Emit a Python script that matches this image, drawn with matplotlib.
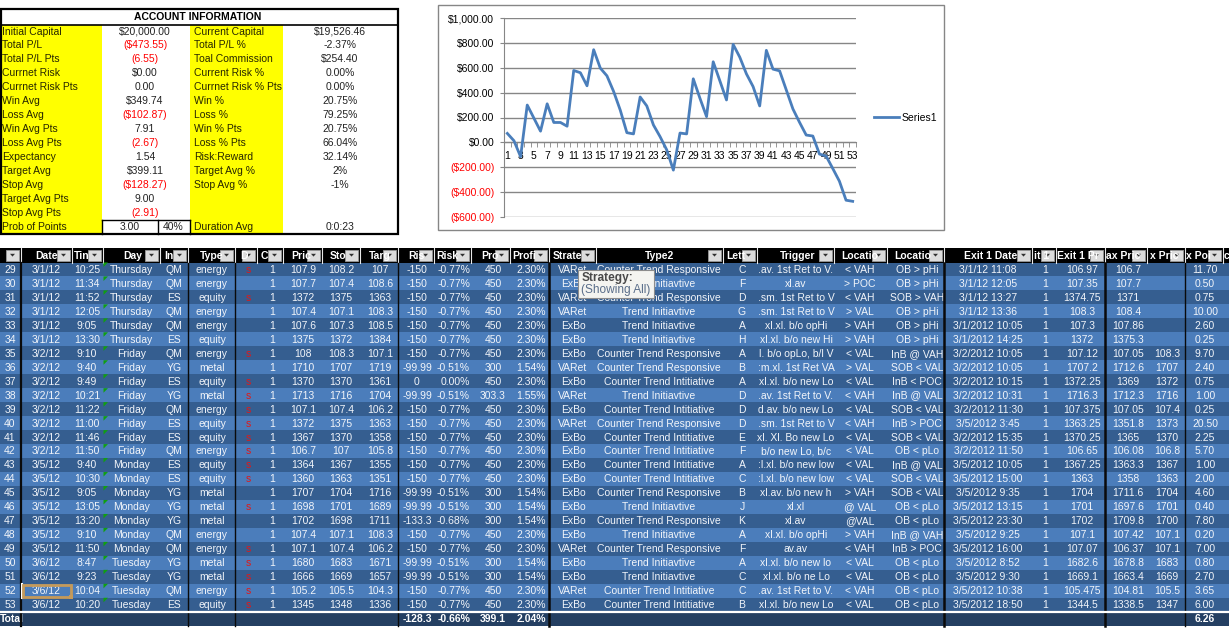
import matplotlib
matplotlib.use('Agg')
import matplotlib.pyplot as plt
from matplotlib.patches import Rectangle, Polygon

plt.rcParams['font.family'] = ['Liberation Sans', 'DejaVu Sans']
FS = 7.5

# ---------------- data ----------------
equity = [72, 13, -115, 300, 195, 90, 310, 160, 160, 130, 578, 560, 455, 745, 597,
          535, 410, 260, 78, 68, 365, 293, 140, 46, -60, -223, 75, 68, 511, 355,
          207, 648, 495, 341, 788, 685, 551, 449, 293, 740, 589, 575, 422, 269, 161,
          59, 51, -94, -110, -210, -312, -465, -474]

info_left_labels = ['Initial Capital', 'Total P/L', 'Total P/L Pts', 'Currnet Risk', 'Currnet Risk Pts',
                    'Win Avg', 'Loss Avg', 'Win Avg Pts', 'Loss Avg Pts', 'Expectancy',
                    'Target Avg', 'Stop Avg', 'Target Avg Pts', 'Stop Avg Pts', 'Prob of Points']
info_left_values = ['$20,000.00', '($473.55)', '(6.55)', '$0.00', '0.00', '$349.74', '($102.87)',
                    '7.91', '(2.67)', '1.54', '$399.11', '($128.27)', '9.00', '(2.91)', '3.00']
prob_pct = '40%'
info_right_labels = ['Current Capital', 'Total P/L %', 'Toal Commission', 'Current Risk %',
                     'Currnet Risk % Pts', 'Win %', 'Loss %', 'Win % Pts', 'Loss % Pts', 'Risk:Reward',
                     'Target Avg %', 'Stop Avg %', '', '', 'Duration Avg']
info_right_values = ['$19,526.46', '-2.37%', '$254.40', '0.00%', '0.00%', '20.75%', '79.25%',
                     '20.75%', '66.04%', '32.14%', '2%', '-1%', '', '', '0:0:23']

row_ids = list(range(29, 54))
dates = ['3/1/12'] * 6 + ['3/2/12'] * 8 + ['3/5/12'] * 7 + ['3/6/12'] * 4
times = ['10:25', '11:34', '11:52', '12:05', '9:05', '13:30', '9:10', '9:40', '9:49', '10:21',
         '11:22', '11:00', '11:46', '11:50', '9:40', '10:30', '9:05', '13:05', '13:20', '9:10',
         '11:50', '8:47', '9:23', '10:04', '10:20']
days = ['Thursday'] * 6 + ['Friday'] * 8 + ['Monday'] * 7 + ['Tuesday'] * 4
instruments = ['QM', 'QM', 'ES', 'QM', 'QM', 'ES', 'QM', 'YG', 'ES', 'YG', 'QM', 'ES', 'ES',
               'QM', 'ES', 'ES', 'YG', 'YG', 'YG', 'QM', 'QM', 'YG', 'YG', 'QM', 'ES']
types = ['energy', 'energy', 'equity', 'energy', 'energy', 'equity', 'energy', 'metal', 'equity',
         'metal', 'energy', 'equity', 'equity', 'energy', 'equity', 'equity', 'metal', 'metal',
         'metal', 'energy', 'energy', 'metal', 'metal', 'energy', 'equity']
directions = ['s', '', 's', '', '', '', 's', '', 's', 's', 's', 's', 's', 's', 's', 's', '', 's',
              '', '', 's', 's', 's', 's', 's']
contracts = ['1'] * 25
prices = ['107.9', '107.7', '1372', '107.4', '107.6', '1375', '108', '1710', '1370', '1713',
          '107.1', '1372', '1367', '106.7', '1364', '1360', '1707', '1698', '1702', '107.4',
          '107.1', '1680', '1666', '105.2', '1345']
stops = ['108.2', '107.4', '1375', '107.1', '107.3', '1372', '108.3', '1707', '1370', '1716',
         '107.4', '1375', '1370', '107', '1367', '1363', '1704', '1701', '1698', '107.1',
         '107.4', '1683', '1669', '105.5', '1348']
targets = ['107', '108.6', '1363', '108.3', '108.5', '1384', '107.1', '1719', '1361', '1704',
           '106.2', '1363', '1358', '105.8', '1355', '1351', '1716', '1689', '1711', '108.3',
           '106.2', '1671', '1657', '104.3', '1336']
risks = ['-150'] * 7 + ['-99.99', '0', '-99.99'] + ['-150'] * 6 + ['-99.99', '-99.99', '-133.3',
         '-150', '-150', '-99.99', '-99.99', '-150', '-150']
risk_pcts = ['-0.77%'] * 7 + ['-0.51%', '0.00%', '-0.51%'] + ['-0.77%'] * 6 + ['-0.51%', '-0.51%',
             '-0.68%', '-0.77%', '-0.77%', '-0.51%', '-0.51%', '-0.77%', '-0.77%']
profits = ['450'] * 7 + ['300', '450', '303.3'] + ['450'] * 6 + ['300', '300', '300', '450', '450',
           '300', '300', '450', '450']
profit_pcts = ['2.30%'] * 7 + ['1.54%', '2.30%', '1.55%'] + ['2.30%'] * 6 + ['1.54%', '1.54%',
               '1.54%', '2.30%', '2.30%', '1.54%', '1.54%', '2.30%', '2.30%']
strategies = ['VARet', 'ExBo', 'VARet', 'VARet', 'ExBo', 'ExBo', 'ExBo', 'VARet', 'ExBo', 'VARet',
              'ExBo', 'VARet', 'ExBo', 'ExBo', 'ExBo', 'ExBo', 'ExBo', 'ExBo', 'ExBo', 'ExBo',
              'VARet', 'ExBo', 'ExBo', 'VARet', 'ExBo']
CTR, TI, CTI = 'Counter Trend Responsive', 'Trend Initiavtive', 'Counter Trend Intitiative'
types2 = [CTR, TI, CTR, TI, TI, TI, CTR, CTR, CTI, TI, CTI, CTR, CTI, CTI, CTI, CTI, CTR, TI, CTR,
          TI, CTR, TI, TI, CTI, CTI]
letters = ['C', 'F', 'D', 'G', 'A', 'H', 'A', 'B', 'A', 'D', 'D', 'D', 'E', 'F', 'A', 'C', 'B', 'J',
           'K', 'A', 'F', 'A', 'C', 'C', 'B']
triggers = ['.av. 1st Ret to V.', 'xl.av', '.sm. 1st Ret to V', '.sm. 1st Ret to V',
            'xl.xl. b/o opHi', 'xl.xl. b/o new Hi', 'l. b/o opLo, b/l V', ':m.xl. 1st Ret VA',
            'xl.xl. b/o new Lo', '.av. 1st Ret to V.', 'd.av. b/o new Lo', '.sm. 1st Ret to V',
            'xl. Xl. Bo new Lo', 'b/o new Lo, b/c', ':l.xl. b/o new low', ':l.xl. b/o new low',
            'xl.av. b/o new h', 'xl.xl', 'xl.av', 'xl.xl. b/o opHi', 'av.av', 'xl.xl. b/o new lo',
            'xl.xl. b/o ne Lo', '.av. 1st Ret to V.', 'xl.xl. b/o new Lo']
locs1 = ['< VAH', '> POC', '< VAH', '> VAL', '> VAH', '> VAH', '< VAL', '> VAL', '< VAL', '< VAH',
         '< VAL', '< VAH', '< VAL', '< VAL', '< VAL', '< VAL', '> VAH', '@ VAL', '@VAL', '> VAH',
         '< VAH', '< VAL', '< VAL', '< VAH', '< VAL']
locs2 = ['OB > pHi', 'OB > pHi', 'SOB > VAH', 'OB > pHi', 'OB > pHi', 'OB > pHi', 'InB @ VAH',
         'SOB < VAL', 'InB < POC', 'InB @ VAL', 'SOB < VAL', 'InB > POC', 'SOB < VAL', 'OB < pLo',
         'InB @ VAL', 'SOB < VAL', 'SOB < VAL', 'OB < pLo', 'OB < pLo', 'InB @ VAH', 'InB > POC',
         'OB < pLo', 'OB < pLo', 'OB < pLo', 'OB < pLo']
exit_dates = ['3/1/12 11:08', '3/1/12 12:05', '3/1/12 13:27', '3/1/12 13:36', '3/1/2012 10:05',
              '3/1/2012 14:25', '3/2/2012 10:05', '3/2/2012 10:05', '3/2/2012 10:15',
              '3/2/2012 10:31', '3/2/2012 11:30', '3/5/2012 3:45', '3/2/2012 15:35',
              '3/2/2012 11:50', '3/5/2012 10:05', '3/5/2012 15:00', '3/5/2012 9:35',
              '3/5/2012 13:15', '3/5/2012 23:30', '3/5/2012 9:25', '3/5/2012 16:00',
              '3/5/2012 8:52', '3/5/2012 9:30', '3/5/2012 10:38', '3/5/2012 18:50']
exit_qty = ['1'] * 25
exit_prices = ['106.97', '107.35', '1374.75', '108.3', '107.3', '1372', '107.12', '1707.2',
               '1372.25', '1716.3', '107.375', '1363.25', '1370.25', '106.65', '1367.25', '1363',
               '1704', '1701', '1702', '107.1', '107.07', '1682.6', '1669.1', '105.475', '1344.5']
max_prices = ['106.7', '107.7', '1371', '108.4', '107.86', '1375.3', '107.05', '1712.6', '1369',
              '1712.3', '107.05', '1351.8', '1365', '106.08', '1363.3', '1358', '1711.6', '1697.6',
              '1709.8', '107.42', '106.37', '1678.8', '1663.4', '104.81', '1338.5']
max_prices2 = ['', '', '', '', '', '', '108.3', '1707', '1372', '1716', '107.4', '1373', '1370',
               '106.8', '1367', '1363', '1704', '1701', '1700', '107.1', '107.1', '1683', '1669',
               '105.5', '1347']
points = ['11.70', '0.50', '0.75', '10.00', '2.60', '0.25', '9.70', '2.40', '0.75', '1.00', '0.25',
          '20.50', '2.25', '5.70', '1.00', '2.00', '4.60', '0.40', '7.80', '0.20', '7.00', '0.80',
          '2.70', '3.65', '6.00']
totals = {'risk': '-128.3', 'risk_pct': '-0.66%', 'profit': '399.1', 'profit_pct': '2.04%',
          'points': '6.26'}

headers = ['', 'Date', 'Tin', 'Day', 'In', 'Type', 'D', 'C', 'Pric', 'Sto', 'Targ', 'Ris', 'Risk',
           'Pro', 'Profi', 'Strate', 'Type2', 'Lett', 'Trigger', 'Locatio', 'Locatio',
           'Exit 1 Date', 'it 1', 'Exit 1 Pr', 'ax Pric', 'x Pric', 'x Poi', 'c']

# ---------------- layout (pixels) ----------------
# (x0, x1, text x, ha, header text left x)
cols = [(0, 21, 10, 'center', 0), (21, 72, 46, 'center', 35), (72, 103, 87, 'center', 74),
        (103, 160, 131.5, 'center', 123), (160, 188, 174, 'center', 164),
        (188, 235, 212, 'center', 200), (235, 257, 248, 'center', 240),
        (257, 283, 272, 'center', 261), (283, 322, 303, 'center', 291),
        (322, 360, 341, 'center', 330), (360, 398, 380, 'center', 369),
        (398, 434, 417, 'center', 408), (434, 471, 470, 'right', 436),
        (471, 510, 493, 'center', 481), (510, 549, 531, 'center', 512),
        (549, 596, 573, 'center', 553), (596, 723, 659, 'center', 645),
        (723, 757, 742, 'center', 726), (757, 834, 796, 'center', 780),
        (834, 887, 860, 'center', 841), (887, 944, 917, 'center', 894),
        (944, 1032, 988, 'center', 964), (1032, 1056, 1045, 'center', 1034),
        (1056, 1105, 1082, 'center', 1057), (1105, 1147, 1128, 'center', 1106),
        (1147, 1185, 1167, 'center', 1150), (1185, 1223, 1205, 'center', 1186),
        (1223, 1240, 1230, 'center', 1224)]

columns = [row_ids, dates, times, days, instruments, types, directions, contracts, prices, stops,
           targets, risks, risk_pcts, profits, profit_pcts, strategies, types2, letters, triggers,
           locs1, locs2, exit_dates, exit_qty, exit_prices, max_prices, max_prices2, points]

fig = plt.figure(figsize=(12.29, 6.29), dpi=100)
bg = fig.add_axes([0, 0, 1, 1])
bg.set_xlim(0, 1229)
bg.set_ylim(629, 0)
bg.axis('off')

# ---------------- account information block ----------------
info_top, info_rh = 24.6, 13.93
bg.add_patch(Rectangle((0, info_top), 102, 15 * info_rh, fc='#FFFF00', ec='none'))
bg.add_patch(Rectangle((190, info_top), 93, 15 * info_rh, fc='#FFFF00', ec='none'))
bg.add_patch(Rectangle((0.7, 8.5), 397, 225, fill=False, ec='black', lw=1.6, zorder=5))
bg.plot([0, 398], [info_top, info_top], color='black', lw=1.2)
bg.text(198, 16.8, 'ACCOUNT INFORMATION', ha='center', va='center', fontsize=FS,
        fontweight='bold', color='black')
for i in range(15):
    yc = info_top + (i + 0.5) * info_rh
    lv, rv = info_left_values[i], info_right_values[i]
    bg.text(2, yc, info_left_labels[i], ha='left', va='center', fontsize=FS, color='#262600')
    bg.text(194, yc, info_right_labels[i], ha='left', va='center', fontsize=FS, color='#262600')
    xc = 130 if i == 14 else 145
    bg.text(xc, yc, lv, ha='center', va='center', fontsize=FS,
            color='#FF0000' if lv.startswith('(') else '#222222')
    bg.text(340, yc, rv, ha='center', va='center', fontsize=FS, color='#222222')
yl = info_top + 14 * info_rh
bg.text(173, yl + info_rh / 2, prob_pct, ha='center', va='center', fontsize=FS, color='#222222')
bg.plot([102, 190], [yl, yl], color='black', lw=1)
bg.plot([158, 158], [yl, yl + info_rh], color='black', lw=1)
bg.plot([102, 102], [yl, yl + info_rh], color='black', lw=1)
bg.plot([190, 190], [yl, yl + info_rh], color='black', lw=1)

# ---------------- trade table ----------------
hdr_top, hdr_bot = 248, 262.5
row_h = 13.97
dark, light = '#355E90', '#4B7DBB'
bg.add_patch(Rectangle((0, hdr_top), 1229, hdr_bot - hdr_top, fc='black', ec='none'))
for k, (x0, x1, tx, ha, hx) in enumerate(cols):
    if headers[k]:
        bg.text(hx, (hdr_top + hdr_bot) / 2 + 0.5, headers[k], ha='left', va='center',
                fontsize=FS, fontweight='bold', color='white', clip_on=True)
    if k < len(cols) - 1:
        bx0 = x1 - 15
        bg.add_patch(Rectangle((bx0, hdr_top + 1.5), 13, 11, fc='#DCDCDC', ec='#9A9A9A', lw=0.6))
        cx, cy = bx0 + 6.5, hdr_top + 7
        bg.add_patch(Polygon([(cx - 2.5, cy - 1.2), (cx + 2.5, cy - 1.2), (cx, cy + 1.6)],
                             closed=True, fc='#303030', ec='none'))
        bg.plot([x1, x1], [hdr_top, hdr_bot], color='#E8E8E8', lw=0.8)

n = len(row_ids)
for i in range(n):
    y0 = hdr_bot + i * row_h
    yc = y0 + row_h / 2 + 0.4
    bg.add_patch(Rectangle((0, y0), 1229, row_h, fc=dark if i % 2 == 0 else light, ec='none'))
    for k, col in enumerate(columns):
        x0, x1, tx, ha, hx = cols[k]
        val = str(col[i])
        if not val:
            continue
        color = '#E01818' if k == 6 else '#F2F5FA'
        t = bg.text(tx, yc, val, ha=ha, va='center', fontsize=FS, color=color)
        clip = Rectangle((x0, y0), x1 - x0, row_h, transform=bg.transData)
        t.set_clip_path(clip)
    bg.add_patch(Polygon([(103.5, y0), (108, y0), (103.5, y0 + 4.5)], closed=True,
                         fc='#10A010', ec='none', zorder=4))

tot_top = hdr_bot + n * row_h
bg.add_patch(Rectangle((0, tot_top), 1229, 14, fc='#243F62', ec='none'))
bg.plot([0, 1229], [tot_top, tot_top], color='white', lw=1.6, zorder=6)
ty = tot_top + 7.4
bg.text(0, ty, 'Total', ha='left', va='center', fontsize=FS, fontweight='bold', color='white')
bg.text(417, ty, totals['risk'], ha='center', va='center', fontsize=FS, fontweight='bold', color='white')
bg.text(470, ty, totals['risk_pct'], ha='right', va='center', fontsize=FS, fontweight='bold', color='white')
bg.text(493, ty, totals['profit'], ha='center', va='center', fontsize=FS, fontweight='bold', color='white')
bg.text(531, ty, totals['profit_pct'], ha='center', va='center', fontsize=FS, fontweight='bold', color='white')
bg.text(1205, ty, totals['points'], ha='center', va='center', fontsize=FS, fontweight='bold', color='white')

# column separators
for xv, lw in [(20.5, 1.6), (188, 1.0), (235, 1.0), (398, 1.0), (549, 1.8), (944, 1.8),
               (1105, 1.8), (1185, 1.0)]:
    bg.plot([xv, xv], [hdr_bot, tot_top + 14], color='#0A0A0A', lw=lw, zorder=5)

# selected cell (row 52, Date)
sel_y = hdr_bot + 23 * row_h
bg.plot([21.5, 21.5], [sel_y, sel_y + row_h], color='white', lw=1.5, zorder=6)
bg.add_patch(Rectangle((23, sel_y + 1), 48, row_h - 2, fill=False, ec='#C59A5A', lw=2, zorder=6))
bg.add_patch(Rectangle((69, sel_y + row_h - 2.5), 4, 4, fc='#C59A5A', ec='none', zorder=7))

# filter tooltip
bg.add_patch(Rectangle((578, 270), 76, 28, fc='#F4F4F0', ec='#8C8C8C', lw=0.8, zorder=8))
bg.text(582, 277.5, 'Strategy:', ha='left', va='center', fontsize=8.6, fontweight='bold',
        color='#4A4A4A', zorder=9)
bg.text(581, 290.5, '(Showing All)', ha='left', va='center', fontsize=8.6, color='#5A6E8A',
        zorder=9)

# ---------------- equity chart ----------------
bg.add_patch(Rectangle((438, 5), 506, 225, fill=False, ec='#868686', lw=1))
ax = fig.add_axes([504 / 1229, 1 - 217 / 629, (856 - 504) / 1229, (217 - 18) / 629])
ax.patch.set_alpha(0)
xs = list(range(1, len(equity) + 1))
line, = ax.plot(xs, equity, color='#4A7EBB', lw=2, label='Series1', zorder=3)
ax.set_xlim(0.5, len(equity) + 0.5)
ax.set_ylim(-600, 1000)
yt = list(range(-600, 1001, 200))
ax.set_yticks(yt)
ylabels = ['(${:,.2f})'.format(-v) if v < 0 else '${:,.2f}'.format(v) for v in yt]
ax.set_yticklabels(ylabels)
for lab, v in zip(ax.get_yticklabels(), yt):
    lab.set_color('#FF0000' if v < 0 else 'black')
ax.yaxis.grid(True, color='#868686', lw=1)
ax.set_axisbelow(True)
ax.set_xticks(xs[::2])
ax.set_xticks([x + 0.5 for x in range(0, len(equity) + 1)], minor=True)
ax.tick_params(axis='x', which='major', length=0, labelsize=FS, pad=6)
ax.tick_params(axis='x', which='minor', length=3.5, color='#868686', direction='out')
ax.tick_params(axis='y', length=3, color='#868686', labelsize=FS, pad=4)
for s in ['top', 'right']:
    ax.spines[s].set_visible(False)
ax.spines['bottom'].set_position(('data', 0))
ax.spines['bottom'].set_color('#868686')
ax.spines['left'].set_color('#868686')
ax.legend(handles=[line], loc='center left', bbox_to_anchor=(874 / 1229, 1 - 118 / 629),
          bbox_transform=fig.transFigure, frameon=False, fontsize=FS, handlelength=2.4,
          handletextpad=0.25, borderpad=0, borderaxespad=0)

fig.savefig('out.png', dpi=100)
